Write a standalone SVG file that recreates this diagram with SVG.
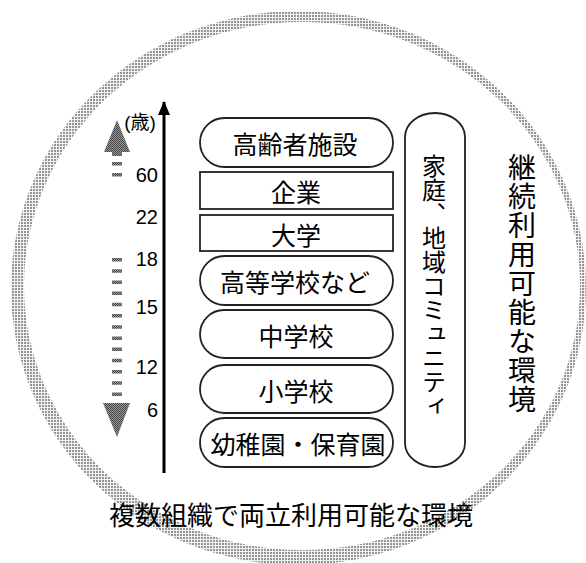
<svg xmlns="http://www.w3.org/2000/svg" width="586" height="563" viewBox="0 0 586 563">
<defs>
<pattern id="dots" width="3" height="3" patternUnits="userSpaceOnUse">
<rect width="3" height="3" fill="#f2f2f2"/>
<rect width="2" height="2" fill="#959595"/>
</pattern>
<pattern id="dots2" width="2" height="2" patternUnits="userSpaceOnUse">
<rect width="2" height="2" fill="#9a9a9a"/>
<rect width="1" height="1" fill="#444"/>
<rect x="1" y="1" width="1" height="1" fill="#444"/>
</pattern>
<marker id="ah" viewBox="0 0 14 12" refX="13" refY="6" markerWidth="14" markerHeight="12" markerUnits="userSpaceOnUse" orient="auto">
<path d="M0 0 L14 6 L0 12 Z" fill="#000"/>
</marker>
</defs>
<style>
.box{fill:#fff;stroke:#222;stroke-width:1.8}
.lbl{font-family:"Noto Sans CJK JP","Noto Sans CJK SC",sans-serif;font-size:25px;fill:#000;text-anchor:middle;dominant-baseline:central}
.num{font-family:"Liberation Sans","Noto Sans CJK JP",sans-serif;font-size:20px;fill:#000;text-anchor:end}
.vt{font-family:"Noto Sans CJK JP",sans-serif;fill:#000;writing-mode:vertical-rl}
</style>
<g id="ring">
<path fill="url(#dots)" fill-rule="evenodd" d="M11 288 A287.5 277 0 1 0 586 288 A287.5 277 0 1 0 11 288 Z M24 286 A278 264 0 1 0 580 286 A278 264 0 1 0 24 286 Z"/>
</g>
<g id="connectors">
<line x1="164" y1="473" x2="164" y2="102" stroke="#000" stroke-width="3" marker-end="url(#ah)"/>
</g>
<g id="age-arrows">
<path d="M117 120 L130 152 L104 152 Z" fill="url(#dots2)"/>
<rect x="112" y="151" width="10" height="5" fill="url(#dots2)"/>
<line x1="117" y1="162" x2="117" y2="178" stroke="url(#dots2)" stroke-width="10" stroke-dasharray="3.5 7.5"/>
<line x1="117" y1="258" x2="117" y2="396" stroke="url(#dots2)" stroke-width="10" stroke-dasharray="3.5 7.7"/>
<path d="M103 403 L130 403 L117 437 Z" fill="url(#dots2)"/>
</g>
<g id="age-labels">
<text x="140" y="129" font-family="Liberation Sans,Noto Sans CJK JP,sans-serif" font-size="19" text-anchor="middle">(歳)</text>
<text class="num" x="158" y="182">60</text>
<text class="num" x="158" y="224">22</text>
<text class="num" x="158" y="266">18</text>
<text class="num" x="158" y="314">15</text>
<text class="num" x="158" y="374">12</text>
<text class="num" x="158" y="417">6</text>
</g>
<g id="n-koureisha">
<rect class="box" x="200" y="118" width="193" height="49" rx="24.5"/>
<text class="lbl" x="295" y="143">高齢者施設</text>
</g>
<g id="n-kigyou">
<rect class="box" x="200" y="172" width="193" height="37"/>
<text class="lbl" x="296" y="191">企業</text>
</g>
<g id="n-daigaku">
<rect class="box" x="200" y="215" width="193" height="36"/>
<text class="lbl" x="296" y="233.5">大学</text>
</g>
<g id="n-koukou">
<rect class="box" x="200" y="256" width="193" height="49" rx="24.5"/>
<text class="lbl" x="295" y="281">高等学校など</text>
</g>
<g id="n-chuugaku">
<rect class="box" x="200" y="310" width="193" height="48" rx="24"/>
<text class="lbl" x="296" y="334.5">中学校</text>
</g>
<g id="n-shougaku">
<rect class="box" x="200" y="365" width="193" height="48" rx="24"/>
<text class="lbl" x="296" y="389.5">小学校</text>
</g>
<g id="n-youchien">
<rect class="box" x="200" y="418" width="193" height="49" rx="24.5"/>
<text class="lbl" x="298" y="443" font-size="25.5">幼稚園・保育園</text>
</g>
<g id="n-katei">
<rect class="box" x="405" y="113" width="60" height="354" rx="30" ry="24"/>
<text class="vt" x="434" y="154" font-size="24">家庭、地域コミュニティ</text>
</g>
<g id="t-keizoku">
<text class="vt" x="522" y="153" font-size="28" letter-spacing="1">継続利用可能な環境</text>
</g>
<g id="t-fukusuu">
<text x="291" y="513" font-family="Noto Sans CJK JP,sans-serif" font-size="26" text-anchor="middle" dominant-baseline="central" fill="#000">複数組織で両立利用可能な環境</text>
</g>
</svg>
